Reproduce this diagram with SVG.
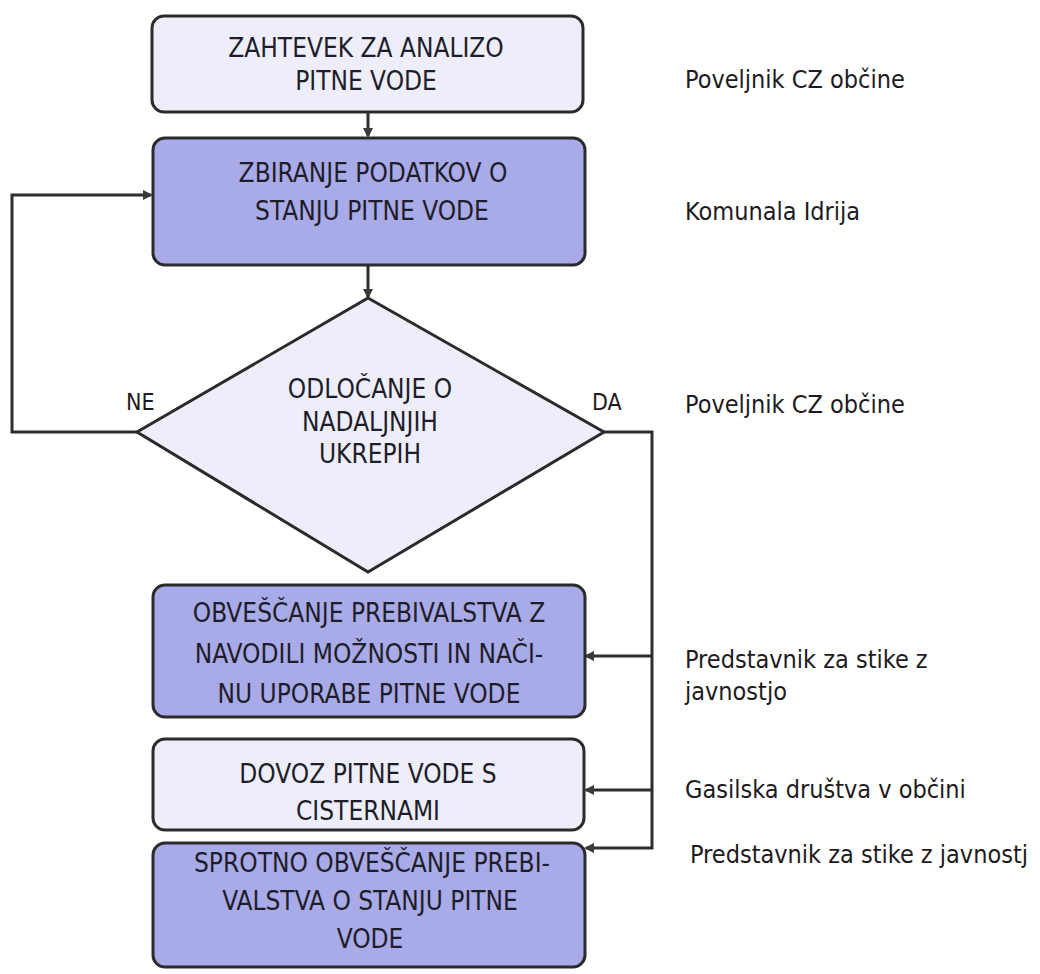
<svg xmlns="http://www.w3.org/2000/svg" width="1040" height="974" viewBox="0 0 1040 974">
<style>
.box{stroke:#2b2b2b;stroke-width:3}
.light{fill:#eeeefb}
.dark{fill:#a9aae8}
.t{font-family:"DejaVu Sans Condensed","DejaVu Sans",sans-serif;font-size:26px;fill:#1e1e2a;text-anchor:middle}
.r{font-family:"DejaVu Sans Condensed","DejaVu Sans",sans-serif;font-size:25px;fill:#1e1a22}
.c{fill:none;stroke:#2e2e2e;stroke-width:3}
</style>
<defs>
<marker id="ah" markerWidth="10" markerHeight="10" refX="8" refY="5" orient="auto" markerUnits="userSpaceOnUse"><path d="M0,0 L10,5 L0,10 Z" fill="#3a3a3a"/></marker>
</defs>
<rect width="1040" height="974" fill="#ffffff"/>
<g id="connectors">
<path class="c" d="M368,112 V136" marker-end="url(#ah)"/>
<path class="c" d="M368,265 V297" marker-end="url(#ah)"/>
<path class="c" d="M137,432 H12 V195 H151" marker-end="url(#ah)"/>
<path class="c" d="M604,432 H652 V848 H586" marker-end="url(#ah)"/>
<path class="c" d="M652,656 H586" marker-end="url(#ah)"/>
<path class="c" d="M652,790 H586" marker-end="url(#ah)"/>
</g>
<g id="n1"><rect class="box light" x="152" y="16" width="431" height="96" rx="12"/>
<text class="t" x="366" y="57">ZAHTEVEK ZA ANALIZO</text><text class="t" x="366" y="90">PITNE VODE</text></g>
<g id="n2"><rect class="box dark" x="153" y="138" width="432" height="127" rx="12"/>
<text class="t" x="373" y="182">ZBIRANJE PODATKOV O</text><text class="t" x="372" y="220">STANJU PITNE VODE</text></g>
<g id="n3"><polygon class="box light" points="368,298 604,432 368,572 137,432"/>
<text class="t" x="370" y="398">ODLOČANJE O</text><text class="t" x="370" y="431">NADALJNJIH</text><text class="t" x="370" y="463">UKREPIH</text></g>
<text class="r" x="126" y="410" style="font-size:23px">NE</text>
<text class="r" x="592" y="410" style="font-size:23px">DA</text>
<g id="n4"><rect class="box dark" x="153" y="585" width="432" height="132" rx="12"/>
<text class="t" x="369" y="622">OBVEŠČANJE PREBIVALSTVA Z</text><text class="t" x="369" y="663">NAVODILI MOŽNOSTI IN NAČI-</text><text class="t" x="369" y="703">NU UPORABE PITNE VODE</text></g>
<g id="n5"><rect class="box light" x="153" y="739" width="431" height="91" rx="12"/>
<text class="t" x="368" y="783">DOVOZ PITNE VODE S</text><text class="t" x="368" y="820">CISTERNAMI</text></g>
<g id="n6"><rect class="box dark" x="153" y="843" width="432" height="124" rx="12"/>
<text class="t" x="372" y="872">SPROTNO OBVEŠČANJE PREBI-</text><text class="t" x="370" y="910">VALSTVA O STANJU PITNE</text><text class="t" x="370" y="948">VODE</text></g>
<g id="labels">
<text class="r" x="685" y="88">Poveljnik CZ občine</text>
<text class="r" x="685" y="220">Komunala Idrija</text>
<text class="r" x="685" y="413">Poveljnik CZ občine</text>
<text class="r" x="685" y="668">Predstavnik za stike z</text>
<text class="r" x="685" y="700">javnostjo</text>
<text class="r" x="685" y="798">Gasilska društva v občini</text>
<text class="r" x="690" y="863">Predstavnik za stike z javnostj</text>
</g>
</svg>
